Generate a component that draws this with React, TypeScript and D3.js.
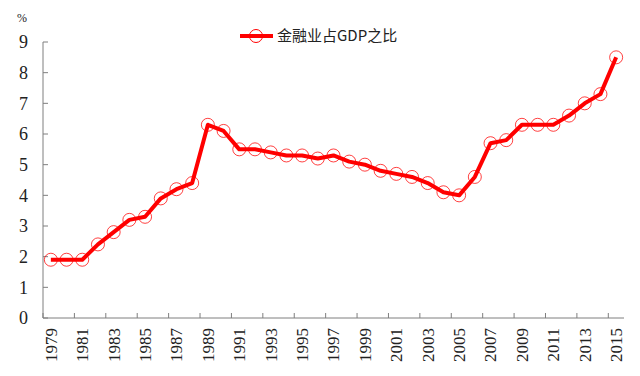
import React from "react";
import * as d3 from "d3";

const years: string[] = [
  "1979","1980","1981","1982","1983","1984","1985","1986","1987","1988",
  "1989","1990","1991","1992","1993","1994","1995","1996","1997","1998",
  "1999","2000","2001","2002","2003","2004","2005","2006","2007","2008",
  "2009","2010","2011","2012","2013","2014","2015",
];
const values: number[] = [
  1.9, 1.9, 1.9, 2.4, 2.8, 3.2, 3.3, 3.9, 4.2, 4.4,
  6.3, 6.1, 5.5, 5.5, 5.4, 5.3, 5.3, 5.2, 5.3, 5.1,
  5.0, 4.8, 4.7, 4.6, 4.4, 4.1, 4.0, 4.6, 5.7, 5.8,
  6.3, 6.3, 6.3, 6.6, 7.0, 7.3, 8.5,
];
const yTicks: number[] = [0, 1, 2, 3, 4, 5, 6, 7, 8, 9];
const seriesName = "金融业占GDP之比";
const unitLabel = "%";

export default function App() {
  const W = 640, H = 376;
  const left = 43, right = 624, top = 42, bottom = 318;
  const x = d3.scaleBand<string>().domain(years).range([left, right]).paddingInner(0).paddingOuter(0);
  const y = d3.scaleLinear().domain([0, 9]).range([bottom, top]);
  const cx = (d: string) => (x(d) as number) + x.bandwidth() / 2;
  const line = d3.line<number>().x((_, i) => cx(years[i])).y((v) => y(v));
  const axisColor = "#7f7f7f";
  const red = "#ff0000";
  const serif = "Liberation Serif";
  const boundaryTicks = years.filter((_, i) => i % 2 === 0).map((d) => x(d) as number);
  const labelYears = years.filter((_, i) => i % 2 === 0);

  return (
    <svg width={W} height={H} style={{ position: "absolute", left: 0, top: 0, background: "#fff" }}>
      <rect x={0} y={0} width={W} height={H} fill="#fff" />
      <line x1={left} x2={left} y1={top} y2={bottom} stroke={axisColor} strokeWidth={1} />
      {yTicks.map((t) => (
        <g key={t}>
          <line x1={left} x2={left + 5} y1={y(t)} y2={y(t)} stroke={axisColor} />
          <text x={28} y={y(t)} dy="0.35em" textAnchor="end" style={{ fontFamily: serif }} fontSize={18} fill="#222">
            {t}
          </text>
        </g>
      ))}
      <text x={22} y={22} textAnchor="middle" style={{ fontFamily: serif }} fontSize={12} fill="#222">{unitLabel}</text>
      <line x1={left} x2={right} y1={bottom} y2={bottom} stroke={axisColor} strokeWidth={1} />
      {boundaryTicks.map((bx, i) => (
        <line key={i} x1={bx} x2={bx} y1={bottom} y2={bottom - 5} stroke={axisColor} />
      ))}
      {labelYears.map((d) => (
        <text
          key={d}
          transform={`translate(${cx(d)},${bottom + 10}) rotate(-90)`}
          textAnchor="end"
          dy="0.35em"
          style={{ fontFamily: serif }}
          fontSize={17}
          fill="#222"
        >
          {d}
        </text>
      ))}
      <path d={line(values) || ""} fill="none" stroke={red} strokeWidth={4} strokeLinejoin="round" />
      {values.map((v, i) => (
        <circle key={i} cx={cx(years[i])} cy={y(v)} r={6.5} fill="none" stroke={red} strokeWidth={1} strokeOpacity={0.75} />
      ))}
      <line x1={240} x2={273} y1={36} y2={36} stroke={red} strokeWidth={4} />
      <circle cx={256} cy={36} r={6.5} fill="none" stroke={red} strokeWidth={1} />
      <text x={277} y={36} dy="0.35em" style={{ fontFamily: "'Noto Sans CJK SC', sans-serif" }} fontSize={15} fill="#222">
        {seriesName}
      </text>
    </svg>
  );
}
